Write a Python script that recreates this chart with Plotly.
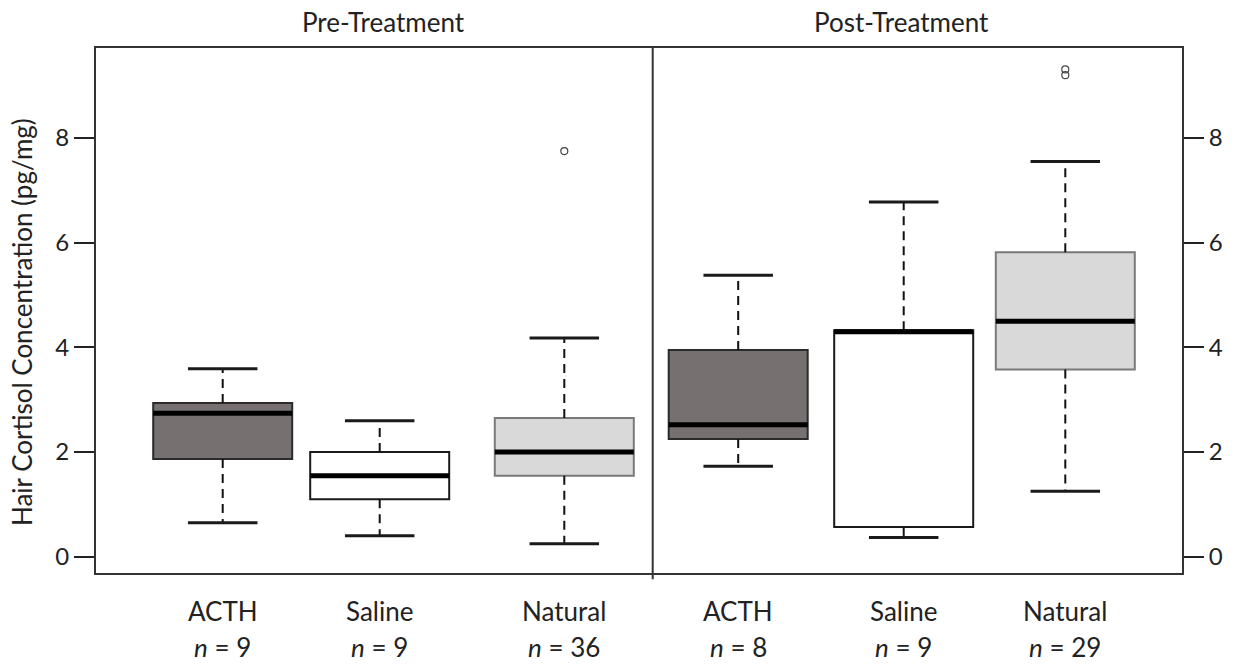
import plotly.graph_objects as go

# ---- data ----
groups = ["ACTH", "Saline", "Natural", "ACTH", "Saline", "Natural"]
n_counts = [9, 9, 36, 8, 9, 29]
phase = ["Pre-Treatment", "Post-Treatment"]
lower_whisker = [0.65, 0.40, 0.25, 1.73, 0.37, 1.25]
q1 = [1.87, 1.10, 1.55, 2.25, 0.57, 3.58]
median = [2.74, 1.55, 2.00, 2.52, 4.30, 4.50]
q3 = [2.94, 2.00, 2.65, 3.95, 4.33, 5.82]
upper_whisker = [3.59, 2.60, 4.18, 5.38, 6.78, 7.55]
outlier_group = [2, 5, 5]
outlier_value = [7.75, 9.20, 9.31]
y_ticks = [0, 2, 4, 6, 8]

# ---- layout / style (not data) ----
pos = [1.267, 2.837, 4.683, 6.422, 8.077, 9.693]
divider = 5.567
title_pos = [2.87, 8.05]
box_w = 1.39
cap_w = box_w / 2
fills = {"ACTH": "#767170", "Saline": "#ffffff", "Natural": "#d9d9d9"}
edges = {"ACTH": "#2b2b2b", "Saline": "#1a1a1a", "Natural": "#7a7a7a"}
FONT = "Lato, 'Open Sans', sans-serif"

fig = go.Figure()

for i, g in enumerate(groups):
    x = pos[i]
    # dashed whiskers
    fig.add_trace(go.Scatter(x=[x, x], y=[q3[i], upper_whisker[i]], mode="lines",
                             line=dict(color="#111", width=2, dash="9px,6px"),
                             showlegend=False, hoverinfo="skip"))
    fig.add_trace(go.Scatter(x=[x, x], y=[q1[i], lower_whisker[i]], mode="lines",
                             line=dict(color="#111", width=2, dash="9px,6px"),
                             showlegend=False, hoverinfo="skip"))
    # caps
    for v in (upper_whisker[i], lower_whisker[i]):
        fig.add_trace(go.Scatter(x=[x - cap_w / 2, x + cap_w / 2], y=[v, v], mode="lines",
                                 line=dict(color="#1a1a1a", width=3),
                                 showlegend=False, hoverinfo="skip"))
    # box
    fig.add_trace(go.Box(x=[x], q1=[q1[i]], median=[median[i]], q3=[q3[i]],
                         lowerfence=[q1[i]], upperfence=[q3[i]],
                         width=box_w, fillcolor=fills[g],
                         line=dict(color=edges[g], width=2),
                         whiskerwidth=0, boxpoints=False, showlegend=False))
    # thick median
    fig.add_trace(go.Scatter(x=[x - box_w / 2, x + box_w / 2], y=[median[i], median[i]],
                             mode="lines", line=dict(color="#000", width=5),
                             showlegend=False, hoverinfo="skip"))

# outliers
fig.add_trace(go.Scatter(x=[pos[g] for g in outlier_group], y=outlier_value, mode="markers",
                         marker=dict(symbol="circle-open", size=7, color="#444",
                                     line=dict(width=1.2, color="#444")),
                         showlegend=False, hoverinfo="skip"))

# dummy trace for right axis
fig.add_trace(go.Scatter(x=[pos[0]], y=[0], yaxis="y2", mode="markers",
                         marker=dict(opacity=0), showlegend=False, hoverinfo="skip"))

yr = [-0.31, 9.72]
axis_common = dict(range=yr, tickvals=y_ticks, ticks="outside", ticklen=20, tickwidth=2,
                   tickcolor="#222", showline=True, linewidth=2, linecolor="#333",
                   showgrid=False, zeroline=False,
                   tickfont=dict(family=FONT, size=24, color="#222"))

fig.update_layout(
    width=1235, height=665,
    margin=dict(l=96, r=53, t=48, b=92),
    plot_bgcolor="white", paper_bgcolor="white",
    xaxis=dict(range=[0, 10.86], showticklabels=False, ticks="", showgrid=False,
               zeroline=False, showline=True, linewidth=2, linecolor="#333", mirror=True),
    yaxis=dict(**axis_common, side="left"),
    yaxis2=dict(**axis_common, side="right", overlaying="y"),
    shapes=[dict(type="line", xref="x", yref="paper", x0=divider, x1=divider,
                 y0=-0.012, y1=1, line=dict(color="#333", width=2))],
)

annotations = []
for i, g in enumerate(groups):
    annotations.append(dict(x=pos[i], y=0, xref="x", yref="paper", yanchor="top",
                            yshift=-20, text=g, showarrow=False,
                            font=dict(family=FONT, size=26, color="#222")))
    annotations.append(dict(x=pos[i], y=0, xref="x", yref="paper", yanchor="top",
                            yshift=-56, text=f"<i>n</i> = {n_counts[i]}", showarrow=False,
                            font=dict(family=FONT, size=26, color="#222")))
for k, t in enumerate(phase):
    annotations.append(dict(x=title_pos[k], y=1, xref="x", yref="paper", yanchor="bottom",
                            yshift=8, text=t, showarrow=False,
                            font=dict(family=FONT, size=26, color="#222")))
annotations.append(dict(x=0, y=0.478, xref="paper", yref="paper", xanchor="center",
                        xshift=-74, text="Hair Cortisol Concentration (pg/mg)",
                        textangle=-90, showarrow=False,
                        font=dict(family=FONT, size=26, color="#222")))
fig.update_layout(annotations=annotations)

fig.write_html("out.html")
